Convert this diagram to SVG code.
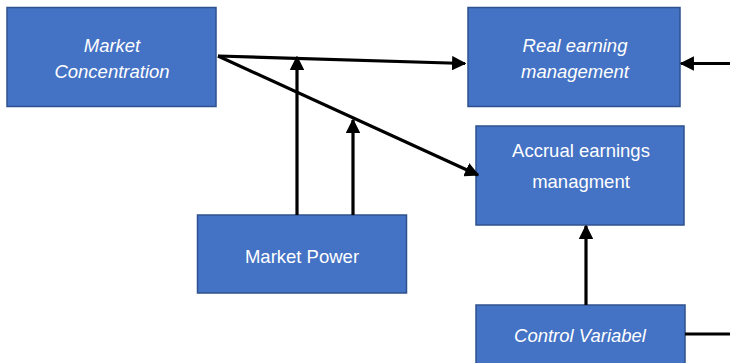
<svg xmlns="http://www.w3.org/2000/svg" width="730" height="363" viewBox="0 0 730 363">
<style>
.box{fill:#4472C4;stroke:#2F528F;stroke-width:1.5}
.t{fill:#fff;font-family:"Liberation Sans","Open Sans",sans-serif;font-size:18.5px;text-anchor:middle}
.i{font-style:italic}
.c{stroke:#000;stroke-width:3.2;fill:none}
</style>
<defs>
<marker id="ah" viewBox="0 0 10 10" refX="9" refY="5" markerWidth="4.5" markerHeight="4.5" markerUnits="strokeWidth" orient="auto">
<path d="M0,0 L10,5 L0,10 Z" fill="#000"/>
</marker>
</defs>
<rect width="730" height="363" fill="#fff"/>
<g id="n-market-concentration">
<rect class="box" x="7" y="7.5" width="209" height="99"/>
<text class="t i" x="112" y="52">Market</text>
<text class="t i" x="112" y="78">Concentration</text>
</g>
<g id="n-real-earning">
<rect class="box" x="468" y="7.5" width="212" height="99"/>
<text class="t i" x="575" y="52">Real earning</text>
<text class="t i" x="575" y="78">management</text>
</g>
<g id="n-accrual">
<rect class="box" x="476" y="126" width="208" height="99"/>
<text class="t" x="581" y="157">Accrual earnings</text>
<text class="t" x="581" y="188">managment</text>
</g>
<g id="n-market-power">
<rect class="box" x="197.5" y="215" width="209" height="78"/>
<text class="t" x="302" y="263">Market Power</text>
</g>
<g id="n-control">
<rect class="box" x="476" y="305" width="209" height="70"/>
<text class="t i" x="580" y="342">Control Variabel</text>
</g>
<g id="connectors">
<line class="c" x1="218" y1="56" x2="465" y2="63.5" marker-end="url(#ah)"/>
<line class="c" x1="218" y1="56" x2="478" y2="175" marker-end="url(#ah)"/>
<line class="c" x1="297" y1="215" x2="297" y2="57" marker-end="url(#ah)"/>
<line class="c" x1="353" y1="215" x2="353" y2="120" marker-end="url(#ah)"/>
<line class="c" x1="586" y1="305" x2="586" y2="226" marker-end="url(#ah)"/>
<line class="c" x1="730" y1="63.5" x2="681" y2="63.5" marker-end="url(#ah)"/>
<line class="c" x1="685" y1="334" x2="730" y2="334"/>
</g>
</svg>
